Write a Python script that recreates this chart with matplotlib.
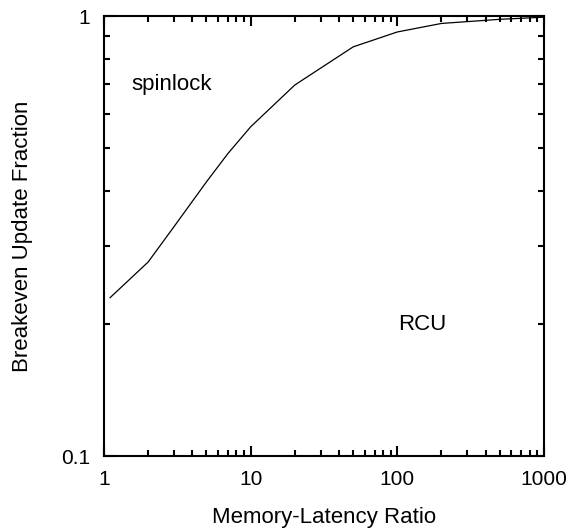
import matplotlib
matplotlib.use('Agg')
import matplotlib.pyplot as plt
from matplotlib.ticker import LogLocator, NullFormatter, FixedLocator, FixedFormatter

plt.rcParams['font.family'] = ['Liberation Sans', 'DejaVu Sans']

# memory-latency ratio vs breakeven update fraction
ratio = [1.1, 2, 3, 5, 7, 10, 20, 50, 100, 200, 500, 1000]
breakeven = [0.229, 0.276, 0.332, 0.42, 0.487, 0.56, 0.697, 0.851, 0.92, 0.962, 0.983, 0.994]

fig = plt.figure(figsize=(5.71, 5.31), dpi=100)
ax = fig.add_axes([0.1821, 0.1412, 0.7706, 0.8286])

ax.plot(ratio, breakeven, color='black', linewidth=0.9)

ax.set_xscale('log')
ax.set_yscale('log')
ax.set_xlim(1, 1000)
ax.set_ylim(0.1, 1)

ax.xaxis.set_major_locator(FixedLocator([1, 10, 100, 1000]))
ax.xaxis.set_major_formatter(FixedFormatter(['1', '10', '100', '1000']))
ax.xaxis.set_minor_locator(LogLocator(base=10, subs=range(2, 10)))
ax.xaxis.set_minor_formatter(NullFormatter())
ax.yaxis.set_major_locator(FixedLocator([0.1, 1]))
ax.yaxis.set_major_formatter(FixedFormatter(['0.1', '1']))
ax.yaxis.set_minor_locator(LogLocator(base=10, subs=range(2, 10)))
ax.yaxis.set_minor_formatter(NullFormatter())

ax.tick_params(which='both', direction='in', top=True, right=True, width=1.5, labelsize=15, pad=10)
ax.tick_params(which='major', length=7.5)
ax.tick_params(which='minor', length=4.5)
for s in ax.spines.values():
    s.set_linewidth(1.5)

ax.set_xlabel('Memory-Latency Ratio', fontsize=16, labelpad=13)
ax.set_ylabel('Breakeven Update Fraction', fontsize=16, labelpad=20)

ax.text(2.9, 0.70, 'spinlock', fontsize=16, ha='center', va='center')
ax.text(147, 0.199, 'RCU', fontsize=16, ha='center', va='center')

fig.savefig('out.png', dpi=100)
